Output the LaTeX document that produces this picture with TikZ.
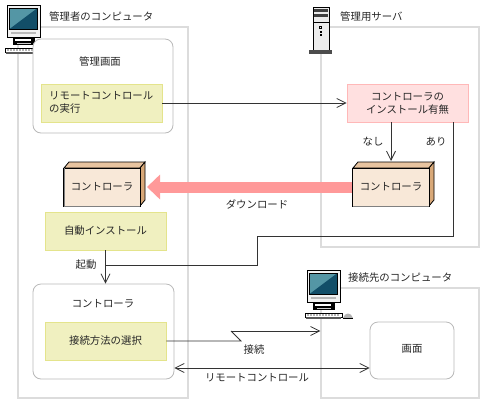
\documentclass[tikz,border=0pt]{standalone}
\usepackage{fontspec}
\setmainfont{Noto Sans CJK JP}
\definecolor{hostLine}{RGB}{220,220,220}
\definecolor{panelLine}{RGB}{185,185,185}
\definecolor{taskFill}{RGB}{240,240,192}
\definecolor{taskLine}{RGB}{228,228,140}
\definecolor{checkFill}{RGB}{255,224,224}
\definecolor{checkLine}{RGB}{255,184,184}
\definecolor{cubeFront}{RGB}{248,232,216}
\definecolor{cubeTop}{RGB}{232,196,160}
\definecolor{cubeSide}{RGB}{216,168,120}
\definecolor{dlPink}{RGB}{255,153,153}
\definecolor{screenLight}{RGB}{84,150,165}
\definecolor{screenDark}{RGB}{18,78,104}
\usepackage{tikz}
\usetikzlibrary{arrows.meta,positioning}
\tikzset{
  hostbox/.style={draw=hostLine, line width=1.2pt, fill=white, minimum width=#1, inner sep=0pt},
  panelbox/.style={draw=panelLine, line width=0.8pt, fill=white, rounded corners=8pt, inner sep=0pt},
  taskbox/.style={draw=taskLine, line width=0.8pt, fill=taskFill, minimum width=121pt, minimum height=38pt, inner sep=0pt},
  cubebox/.style={draw=black, line width=0.8pt, fill=cubeFront, minimum width=77pt, minimum height=38pt, inner sep=0pt},
  flow/.style={draw=black!80, line width=0.8pt},
  openhead/.style={-{Straight Barb[length=9pt,width=9pt]}},
  pics/pcicon/.style={code={
    \draw[black, fill=white, line width=0.8pt] (-2,43) rectangle (35,47);
    \fill[black!65] (-1,47) rectangle (34,48.5);
    \foreach \keyx in {0,3,...,30} {\fill[gray!60] (\keyx,44) rectangle ++(2,2);}
    \fill[black] (6,32) rectangle (28,40);
    \fill[white] (8,34) rectangle (24,36);
    \fill[gray!40] (10,37.5) rectangle (24,39);
    \draw[black, fill=gray!10, line width=1pt] (0,0) rectangle (33,32);
    \fill[screenLight] (2.5,3) rectangle (30.5,24);
    \fill[screenDark] (30.5,3) -- (30.5,24) -- (2.5,24) -- cycle;
    \draw[black, line width=0.6pt] (2.5,3) rectangle (30.5,24);
    \fill[gray!55] (4,27) rectangle (29,29);
  }},
  pics/cubeback/.style={code={
    \draw[black, line width=0.8pt, fill=cubeTop] (0,168) -- (5,162) -- (81,162) -- (76,168) -- cycle;
    \draw[black, line width=0.8pt, fill=cubeSide] (76,168) -- (81,162) -- (81,200) -- (76,206) -- cycle;
  }}
}
\begin{document}
\begin{tikzpicture}[x=1pt, y=-1pt, every node/.style={font=\fontsize{10.4pt}{13pt}\selectfont, text=black!85}]
  \useasboundingbox (0,0) rectangle (482,400);

  \node[hostbox=170pt, minimum height=371pt] (admin) at (103,212.5) {};
  \node[hostbox=158pt, minimum height=220pt] (server) at (400,137) {};
  \node[hostbox=158pt, minimum height=110pt] (target) at (400,343) {};

  \pic at (7,5) {pcicon};
  \node[anchor=west] (adminlbl) at (45.7,17) {管理者のコンピュータ};

  \node[panelbox, minimum width=140pt, minimum height=94pt] (adminscr) at (103,86) {};
  \node (adminscrlbl) at (100,62) {管理画面};
  \node[taskbox] (exec) at (101.5,103) {};
  \node[anchor=west, align=left] (execlbl) at (45.7,102.5) {リモートコントロール\\の実行};

  \draw[black, fill=gray!15, line width=0.8pt] (313,7) rectangle (329,50);
  \fill[black!75] (314,9) rectangle (328,12);
  \fill[black!75] (314,14) rectangle (328,17);
  \draw[black, line width=0.8pt] (313,22) -- (329,22);
  \draw[black, line width=0.6pt] (319.5,26) rectangle (321.5,28);
  \fill[black] (320,31) rectangle (322,32.5);
  \fill[black] (320,34) rectangle (322,35.5);
  \fill[black!70] (309,50) rectangle (332,54);
  \node[anchor=west] (serverlbl) at (336.7,17) {管理用サーバ};

  \node[draw=checkLine, line width=0.8pt, fill=checkFill, minimum width=121pt, minimum height=38pt, inner sep=0pt, align=center] (check) at (407.5,103) {コントローラの\\インストール有無};

  \draw[flow, openhead] (exec) -- (check);

  \pic at (353,0) {cubeback};
  \node[cubebox] (srvctrl) at (391,187) {コントローラ};
  \draw[gray, line width=0.8pt] (353,206.5) -- (429,206.5);
  \pic at (64,0) {cubeback};
  \node[cubebox] (adminctrl) at (102,187) {コントローラ};
  \draw[gray, line width=0.8pt] (64,168) -- (64,206.5) -- (140,206.5);

  \coordinate (srvtop) at (391,161);
  \draw[flow, openhead] (srvctrl |- check.south) -- (srvtop);
  \node (nashi) at (373,142) {なし};
  \node (ari) at (436,142) {あり};

  \draw[dlPink, line width=11pt, -{Triangle[length=13pt,width=24pt]}] (srvctrl.west) -- (147,187);
  \node (dl) at (257,204) {ダウンロード};

  \node[taskbox] (autoinst) at (105.5,231) {自動インストール};

  \node[panelbox, minimum width=141pt, minimum height=95pt] (ctrlpanel) at (103.5,331.5) {};
  \node (ctrllbl) at (103,304) {コントローラ};
  \node[taskbox] (select) at (105.5,341) {接続方法の選択};
  \node (kidou) at (86,265) {起動};

  \draw[flow, openhead] (autoinst.south) -- (ctrlpanel.north -| autoinst.south);
  \draw[flow] (check.south -| 453,0) -- (453,236) -- (257,236) -- (257,265) -- (105.5,265);

  \pic at (307,270) {pcicon};
  \fill[gray!60] (343,318) .. controls (345,312) and (351,312) .. (353,318) -- cycle;
  \draw[black, line width=0.6pt] (343,318) -- (353,318);
  \node[anchor=west] (targetlbl) at (344.7,278) {接続先のコンピュータ};

  \node[panelbox, minimum width=84pt, minimum height=57pt] (targetscr) at (412,350.5) {};
  \node (targetscrlbl) at (412,349) {画面};

  \coordinate (zagup) at (231,331);
  \coordinate (zagdn) at (241,341);
  \draw[flow] (select.east) -- (zagdn) -- (zagup);
  \draw[flow, openhead] (zagup) -- (target.west |- zagup);
  \node (conn) at (254,350) {接続};

  \draw[flow, {Straight Barb[length=9pt,width=9pt]}-{Straight Barb[length=9pt,width=9pt]}] (ctrlpanel.east |- 0,368) -- (targetscr.west |- 0,368);
  \node (remote) at (257,378) {リモートコントロール};
\end{tikzpicture}
\end{document}
